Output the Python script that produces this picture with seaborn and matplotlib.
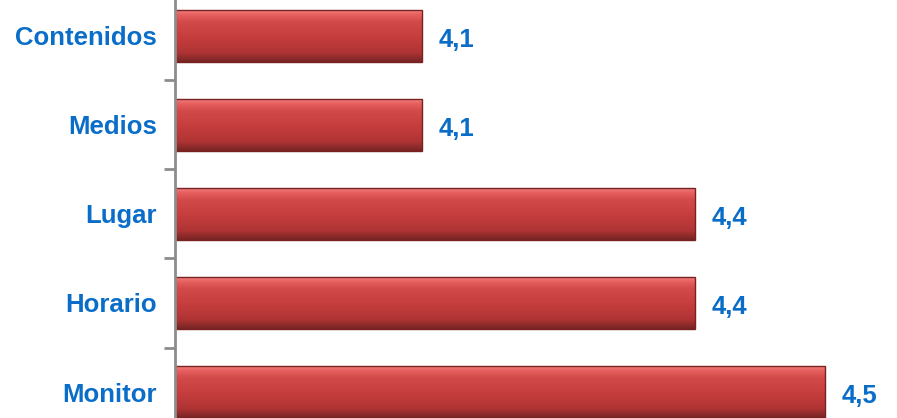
import numpy as np
import pandas as pd
import matplotlib
matplotlib.use("Agg")
import matplotlib.pyplot as plt
import seaborn as sns
from matplotlib.colors import LinearSegmentedColormap

categories = ["Contenidos", "Medios", "Lugar", "Horario", "Monitor"]
values = [4.107, 4.107, 4.39, 4.39, 4.525]
value_labels = ["4,1", "4,1", "4,4", "4,4", "4,5"]

sns.set_theme(style="white")
plt.rcParams['font.family'] = ['Liberation Sans', 'DejaVu Sans']

df = pd.DataFrame({"cat": categories, "val": values})

fig = plt.figure(figsize=(8.97, 4.18), dpi=100)
ax = fig.add_axes([175 / 897, 0, (897 - 175) / 897, 1])

sns.barplot(data=df, x="val", y="cat", orient="h", ax=ax, color="#C43C3C",
            width=0.58, edgecolor="#7A2222", linewidth=1.0)

xlim = (3.85, 4.6)
ylim = (4.292, -0.404)

# gradient fill for bars
cmap = LinearSegmentedColormap.from_list("bevel", [
    (0.00, "#F28282"), (0.08, "#E86262"), (0.22, "#D24A4A"),
    (0.55, "#C43C3C"), (0.82, "#B03434"), (0.92, "#8E2B2B"), (1.00, "#762222")])
grad = np.linspace(0, 1, 256).reshape(-1, 1)
for p in list(ax.patches):
    x0, y0, w, h = p.get_x(), p.get_y(), p.get_width(), p.get_height()
    xa = max(x0, xlim[0])
    xb = x0 + w
    im = ax.imshow(grad, cmap=cmap, aspect="auto", origin="upper",
                   extent=(xa, xb, y0 + h, y0), zorder=p.get_zorder() + 0.1,
                   interpolation="bilinear")
    im.set_clip_path(p)
    p.set_facecolor("none")
    p.set_zorder(p.get_zorder() + 0.2)

blue = "#0A6EC8"
for txt in ax.bar_label(ax.containers[0], labels=value_labels, padding=12,
                        fontsize=18.5, fontweight="bold", color=blue):
    txt.xyann = (12, -3)

ax.set_xlabel("")
ax.set_ylabel("")
ax.set_xticks([])
ax.set_yticks(range(len(categories)))
ax.set_yticklabels(categories, fontsize=18.5, fontweight="bold", color=blue)
ax.set_yticks([i + 0.5 for i in range(-1, len(categories) - 1)], minor=True)
ax.tick_params(axis="y", which="major", length=0, pad=13)
ax.tick_params(axis="y", which="minor", length=8, width=2, color="#8C8C8C", direction="out", left=True)

ax.set_xlim(*xlim)
ax.set_ylim(*ylim)

for s in ["top", "right", "bottom"]:
    ax.spines[s].set_visible(False)
ax.spines["left"].set_color("#8C8C8C")
ax.spines["left"].set_linewidth(2)
ax.spines["left"].set_zorder(5)
ax.set_facecolor("white")
fig.patch.set_facecolor("white")

fig.savefig("out.png", dpi=100)
